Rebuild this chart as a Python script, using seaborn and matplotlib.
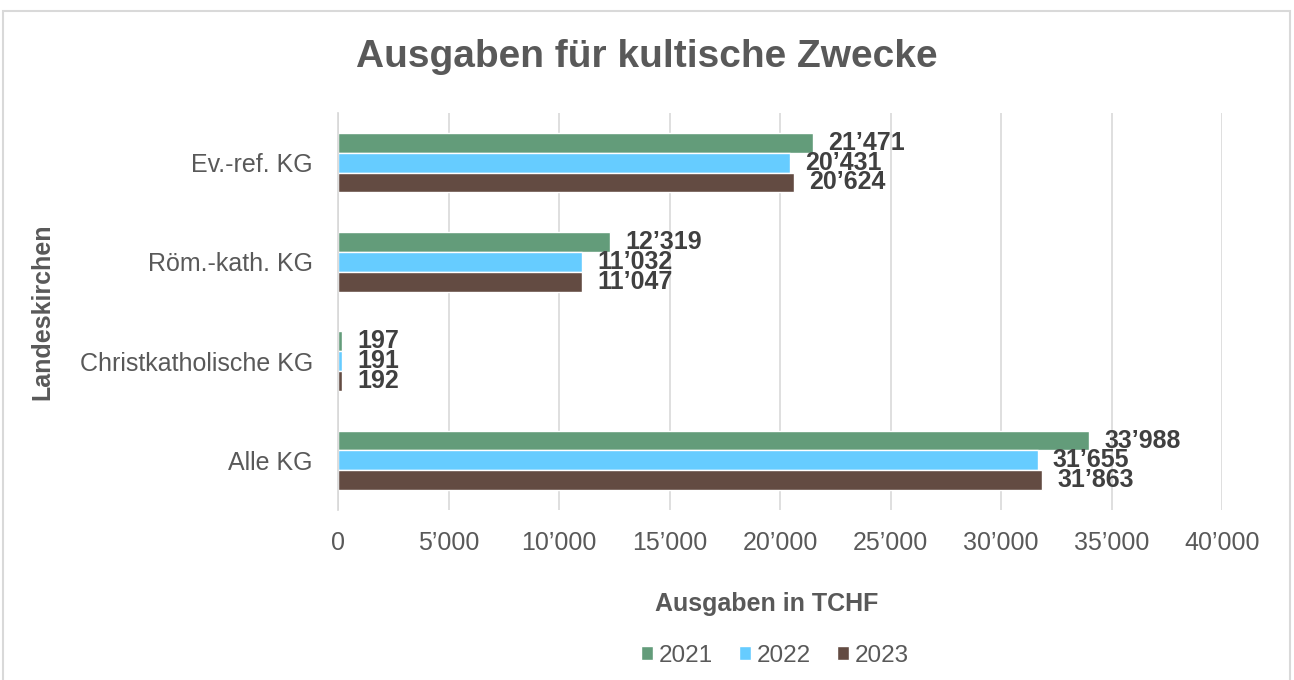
import matplotlib
matplotlib.use("Agg")
import matplotlib.pyplot as plt
import seaborn as sns
import pandas as pd
from matplotlib.patches import Rectangle
from matplotlib.ticker import FuncFormatter

categories = ["Ev.-ref. KG", "Röm.-kath. KG", "Christkatholische KG", "Alle KG"]
years = ["2021", "2022", "2023"]
values_2021 = [21471, 12319, 197, 33988]
values_2022 = [20431, 11032, 191, 31655]
values_2023 = [20624, 11047, 192, 31863]
colors = ["#639C7A", "#66CCFF", "#634B42"]

rows = []
for yr, vals in zip(years, [values_2021, values_2022, values_2023]):
    for c, v in zip(categories, vals):
        rows.append({"Landeskirche": c, "Jahr": yr, "Wert": v})
df = pd.DataFrame(rows)

sns.set_theme(style="white")
plt.rcParams['font.family'] = ['Liberation Sans', 'DejaVu Sans']

fig = plt.figure(figsize=(12.94, 6.8), dpi=100)
ax = fig.add_axes([338/1294, 1-510/680, (1222-338)/1294, (510-113)/680])

sns.barplot(data=df, y="Landeskirche", x="Wert", hue="Jahr", orient="h",
            palette=colors, width=0.6, ax=ax, saturation=1, errorbar=None)

def fmt(v):
    return f"{int(round(v)):,}".replace(",", "’")

for cont in ax.containers:
    ax.bar_label(cont, labels=[fmt(b.get_width()) for b in cont], padding=11,
                 fontsize=18, fontweight="bold", color="#404040")

ax.set_xlim(0, 40000)
ax.set_xticks(range(0, 40001, 5000))
ax.xaxis.set_major_formatter(FuncFormatter(lambda v, p: fmt(v)))
ax.grid(axis="x", color="#D9D9D9", linewidth=1.2)
ax.set_axisbelow(True)
for s in ["top", "right", "bottom"]:
    ax.spines[s].set_visible(False)
ax.spines["left"].set_color("#D9D9D9")
ax.tick_params(axis="both", length=0, labelsize=18, labelcolor="#595959")
ax.tick_params(axis="x", pad=15)
ax.tick_params(axis="y", pad=18)

ax.set_xlabel("Ausgaben in TCHF", fontsize=18, fontweight="bold", color="#595959", labelpad=27)
ax.xaxis.label.set_x((767 - 338) / 884)
ax.set_ylabel("Landeskirchen", fontsize=18, fontweight="bold", color="#595959", labelpad=18)

fig.text(0.5, 1-57/680, "Ausgaben für kultische Zwecke", ha="center", va="center",
         fontsize=28, fontweight="bold", color="#595959")

handles, labels = ax.get_legend_handles_labels()
ax.legend(handles, labels, loc="center", bbox_to_anchor=(775/1294, 1-656/680), bbox_transform=fig.transFigure,
          ncol=3, frameon=False, fontsize=17.5, labelcolor="#595959",
          handlelength=0.5, handleheight=0.5, handletextpad=0.25, columnspacing=1.05)

fig.patches.append(Rectangle((3/1294, -0.05), (1290-3)/1294, 1.05-11/680, transform=fig.transFigure,
                             fill=False, edgecolor="#D9D9D9", linewidth=1.5))

fig.savefig("out.png", dpi=100)
